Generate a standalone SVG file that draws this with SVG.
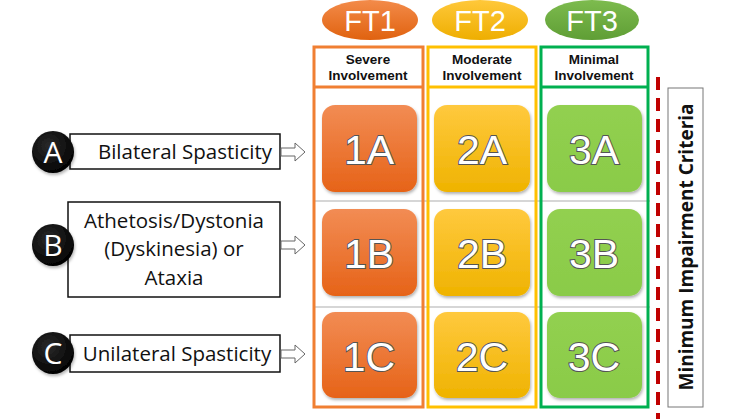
<svg xmlns="http://www.w3.org/2000/svg" width="745" height="419" viewBox="0 0 745 419">
<defs>
<linearGradient id="gO" x1="0" y1="0" x2="0" y2="1"><stop offset="0" stop-color="#f28c54"/><stop offset="1" stop-color="#e66318"/></linearGradient>
<linearGradient id="gY" x1="0" y1="0" x2="0" y2="1"><stop offset="0" stop-color="#ffc93e"/><stop offset="1" stop-color="#efb300"/></linearGradient>
<linearGradient id="gG" x1="0" y1="0" x2="0" y2="1"><stop offset="0" stop-color="#92d050"/><stop offset="1" stop-color="#8acb48"/></linearGradient>
<linearGradient id="eO" x1="0" y1="0" x2="0" y2="1"><stop offset="0" stop-color="#f38b4a"/><stop offset="1" stop-color="#e0620f"/></linearGradient>
<linearGradient id="eY" x1="0" y1="0" x2="0" y2="1"><stop offset="0" stop-color="#ffc83a"/><stop offset="1" stop-color="#eeae00"/></linearGradient>
<linearGradient id="eG" x1="0" y1="0" x2="0" y2="1"><stop offset="0" stop-color="#7dbb4e"/><stop offset="1" stop-color="#5f9e35"/></linearGradient>
<radialGradient id="cB" cx="0.4" cy="0.35" r="0.7"><stop offset="0" stop-color="#2a2a2a"/><stop offset="1" stop-color="#000"/></radialGradient>
<filter id="sh" x="-10%" y="-10%" width="130%" height="130%"><feDropShadow dx="1" dy="2" stdDeviation="1.5" flood-color="#000" flood-opacity="0.3"/></filter>
</defs>
<style>
.ft{font-family:"Liberation Sans",Arial,sans-serif;font-size:29px;fill:#fff;text-anchor:middle}
.hd{font-family:"Liberation Sans",Arial,sans-serif;font-size:13.5px;font-weight:bold;fill:#111;text-anchor:middle}
.tile{font-family:"Liberation Sans",Arial,sans-serif;font-size:41px;fill:#fff;stroke:#555;stroke-width:2;text-anchor:middle;paint-order:stroke}
.lbl{font-family:"Open Sans","Liberation Sans",sans-serif;font-size:20.5px;fill:#111;text-anchor:middle}
.let{font-family:"Open Sans","Liberation Sans",sans-serif;font-size:30px;fill:#fff;text-anchor:middle}
.box{fill:#fff;stroke:#111;stroke-width:1.5}
.arr{fill:#fff;stroke:#666;stroke-width:1}
.grid{stroke:#c8c8c8;stroke-width:1.5}
</style>
<g id="ft-headers">
<ellipse cx="370" cy="20" rx="48" ry="20" fill="url(#eO)"/>
<text class="ft" x="370" y="31">FT1</text>
<ellipse cx="480" cy="20" rx="48" ry="20" fill="url(#eY)"/>
<text class="ft" x="480" y="31">FT2</text>
<ellipse cx="592" cy="20" rx="47" ry="20" fill="url(#eG)"/>
<text class="ft" x="592" y="31">FT3</text>
</g>
<g id="grid-lines">
<line class="grid" x1="313" y1="201" x2="650" y2="201"/>
<line class="grid" x1="313" y1="307" x2="650" y2="307"/>
</g>
<g id="col-ft1">
<rect x="314" y="47" width="109" height="360" fill="none" stroke="#f07f32" stroke-width="3"/>
<line x1="314" y1="87" x2="423" y2="87" stroke="#f07f32" stroke-width="3"/>
<text class="hd" x="368" y="64">Severe</text>
<text class="hd" x="368" y="80">Involvement</text>
</g>
<g id="col-ft2">
<rect x="428" y="47" width="108" height="360" fill="none" stroke="#ffc000" stroke-width="3"/>
<line x1="428" y1="87" x2="536" y2="87" stroke="#ffc000" stroke-width="3"/>
<text class="hd" x="482" y="64">Moderate</text>
<text class="hd" x="482" y="80">Involvement</text>
</g>
<g id="col-ft3">
<rect x="541" y="47" width="107" height="360" fill="none" stroke="#00b050" stroke-width="3"/>
<line x1="541" y1="87" x2="648" y2="87" stroke="#00b050" stroke-width="3"/>
<text class="hd" x="594" y="64">Minimal</text>
<text class="hd" x="594" y="80">Involvement</text>
</g>
<g id="tile-1A"><rect x="322" y="105" width="95" height="87" rx="13" fill="url(#gO)" filter="url(#sh)"/><text class="tile" x="369" y="164">1A</text></g>
<g id="tile-2A"><rect x="434" y="105" width="96" height="87" rx="13" fill="url(#gY)" filter="url(#sh)"/><text class="tile" x="482" y="164">2A</text></g>
<g id="tile-3A"><rect x="547" y="105" width="95" height="87" rx="13" fill="url(#gG)" filter="url(#sh)"/><text class="tile" x="594" y="164">3A</text></g>
<g id="tile-1B"><rect x="322" y="209" width="95" height="87" rx="13" fill="url(#gO)" filter="url(#sh)"/><text class="tile" x="369" y="268">1B</text></g>
<g id="tile-2B"><rect x="434" y="209" width="96" height="87" rx="13" fill="url(#gY)" filter="url(#sh)"/><text class="tile" x="482" y="268">2B</text></g>
<g id="tile-3B"><rect x="547" y="209" width="95" height="87" rx="13" fill="url(#gG)" filter="url(#sh)"/><text class="tile" x="594" y="268">3B</text></g>
<g id="tile-1C"><rect x="322" y="312" width="95" height="86" rx="13" fill="url(#gO)" filter="url(#sh)"/><text class="tile" x="369" y="371">1C</text></g>
<g id="tile-2C"><rect x="434" y="312" width="96" height="86" rx="13" fill="url(#gY)" filter="url(#sh)"/><text class="tile" x="482" y="371">2C</text></g>
<g id="tile-3C"><rect x="547" y="312" width="95" height="86" rx="13" fill="url(#gG)" filter="url(#sh)"/><text class="tile" x="594" y="371">3C</text></g>
<g id="row-A">
<rect class="box" x="70" y="134" width="210" height="35"/>
<text class="lbl" x="185" y="159">Bilateral Spasticity</text>
<circle cx="53" cy="152" r="21" fill="url(#cB)" filter="url(#sh)"/>
<text class="let" x="53" y="163">A</text>
</g>
<g id="row-B">
<rect class="box" x="68" y="202" width="212" height="95"/>
<text class="lbl" x="174" y="228">Athetosis/Dystonia</text>
<text class="lbl" x="174" y="256">(Dyskinesia) or</text>
<text class="lbl" x="174" y="285">Ataxia</text>
<circle cx="53" cy="245" r="21" fill="url(#cB)" filter="url(#sh)"/>
<text class="let" x="53" y="256">B</text>
</g>
<g id="row-C">
<rect class="box" x="70" y="335" width="210" height="37"/>
<text class="lbl" x="177" y="361">Unilateral Spasticity</text>
<circle cx="53" cy="353" r="21" fill="url(#cB)" filter="url(#sh)"/>
<text class="let" x="53" y="364">C</text>
</g>
<g id="connectors">
<path class="arr" d="M281,148 H295 V143 L305,152 L295,161 V156 H281 Z"/>
<path class="arr" d="M281,241 H295 V236 L305,245 L295,254 V249 H281 Z"/>
<path class="arr" d="M281,350 H295 V345 L305,354 L295,363 V358 H281 Z"/>
</g>
<g id="min-criteria">
<line x1="658" y1="77" x2="658" y2="419" stroke="#c00000" stroke-width="4" stroke-dasharray="13 8"/>
<rect x="668" y="88" width="35" height="319" fill="#fff" stroke="#777" stroke-width="1"/>
<text x="0" y="0" transform="translate(693,247) rotate(-90)" font-family="'Open Sans','Liberation Sans',sans-serif" font-size="19" font-weight="bold" fill="#111" text-anchor="middle">Minimum Impairment Criteria</text>
</g>
</svg>
